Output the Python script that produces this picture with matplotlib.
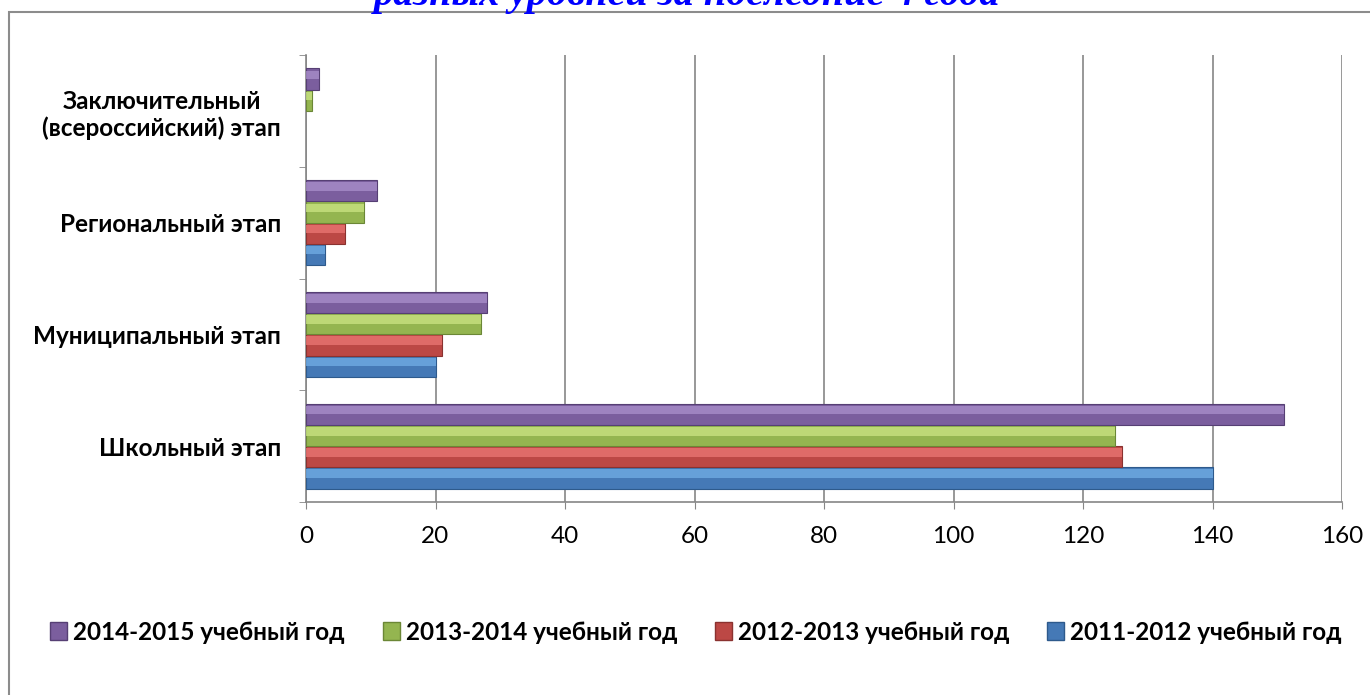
import numpy as np
import matplotlib
matplotlib.use("Agg")
import matplotlib.pyplot as plt
from matplotlib.patches import Patch, Rectangle

plt.rcParams['font.family'] = ['Lato', 'DejaVu Sans']

# Данные
categories = ["Школьный этап", "Муниципальный этап", "Региональный этап",
              "Заключительный\n(всероссийский) этап"]
years = ["2011-2012 учебный год", "2012-2013 учебный год",
         "2013-2014 учебный год", "2014-2015 учебный год"]
v2011 = [140, 20, 3, 0]
v2012 = [126, 21, 6, 0]
v2013 = [125, 27, 9, 1]
v2014 = [151, 28, 11, 2]
xticks = [0, 20, 40, 60, 80, 100, 120, 140, 160]

series = [v2011, v2012, v2013, v2014]
base_col = ['#4579B6', '#BC4845', '#94B550', '#7B5E9E']
light_col = ['#72AEE6', '#EC7774', '#CBE584', '#AA90CC']
edge_col = ['#2E5A8C', '#8A3230', '#6B8736', '#563F74']

fig = plt.figure(figsize=(13.7, 6.95), dpi=100)
ax = fig.add_axes([306/1370, 1-502/695, (1342-306)/1370, (502-55)/695])

pos = np.arange(len(categories))
h = 0.19
for i, vals in enumerate(series):
    y = pos + (i - 1.5) * h
    lws = [0.8 if v > 0 else 0 for v in vals]
    ax.barh(y, vals, height=h, color=base_col[i], edgecolor=edge_col[i], linewidth=lws, zorder=3)
    # светлая полоса сверху (имитация объёма)
    ax.barh(y + h*0.2, vals, height=h*0.4, color=light_col[i], linewidth=0, alpha=0.75, zorder=4)

ax.set_xlim(0, 160)
ax.set_ylim(-0.5, 3.5)
ax.set_xticks(xticks)
ax.set_xticklabels([str(t) for t in xticks], fontsize=17.5)
ax.tick_params(axis='x', length=5, color='#868686', pad=12)
ax.set_yticks(pos)
ax.set_yticklabels(categories, fontsize=17.5, fontweight='bold', multialignment='center')
ax.tick_params(axis='y', which='major', length=0, pad=18)
ax.set_yticks([-0.5, 0.5, 1.5, 2.5, 3.5], minor=True)
ax.tick_params(axis='y', which='minor', length=5, color='#868686')
ax.grid(axis='x', color='#868686', linewidth=1.2, zorder=0)
for s in ['top', 'right']:
    ax.spines[s].set_visible(False)
for s in ['left', 'bottom']:
    ax.spines[s].set_color('#868686')
    ax.spines[s].set_linewidth(1.2)

# легенда (в обратном порядке)
handles = [Patch(facecolor=base_col[i], edgecolor=edge_col[i]) for i in [3, 2, 1, 0]]
labels = [years[i] for i in [3, 2, 1, 0]]
leg = fig.legend(handles, labels, loc='center', bbox_to_anchor=(0.508, 1-632/695), ncol=4,
                 frameon=False, prop={'size': 17.5, 'weight': 'bold'},
                 handlelength=0.7, handleheight=0.7, handletextpad=0.25, columnspacing=1.55)

# рамка диаграммы
fig.patches.append(Rectangle((9/1370, -0.05), 1.1, 1-12/695+0.05, transform=fig.transFigure,
                             fill=False, edgecolor='#8c8c8c', linewidth=1.5))

# обрезанный заголовок
fig.text(687/1370, 1-5/695, "разных уровней за последние 4 года", ha='center', va='baseline',
         color='#0000FF', fontsize=29, fontweight='bold', fontstyle='italic',
         family=['Liberation Serif', 'DejaVu Serif'])

fig.savefig("out.png", dpi=100)
